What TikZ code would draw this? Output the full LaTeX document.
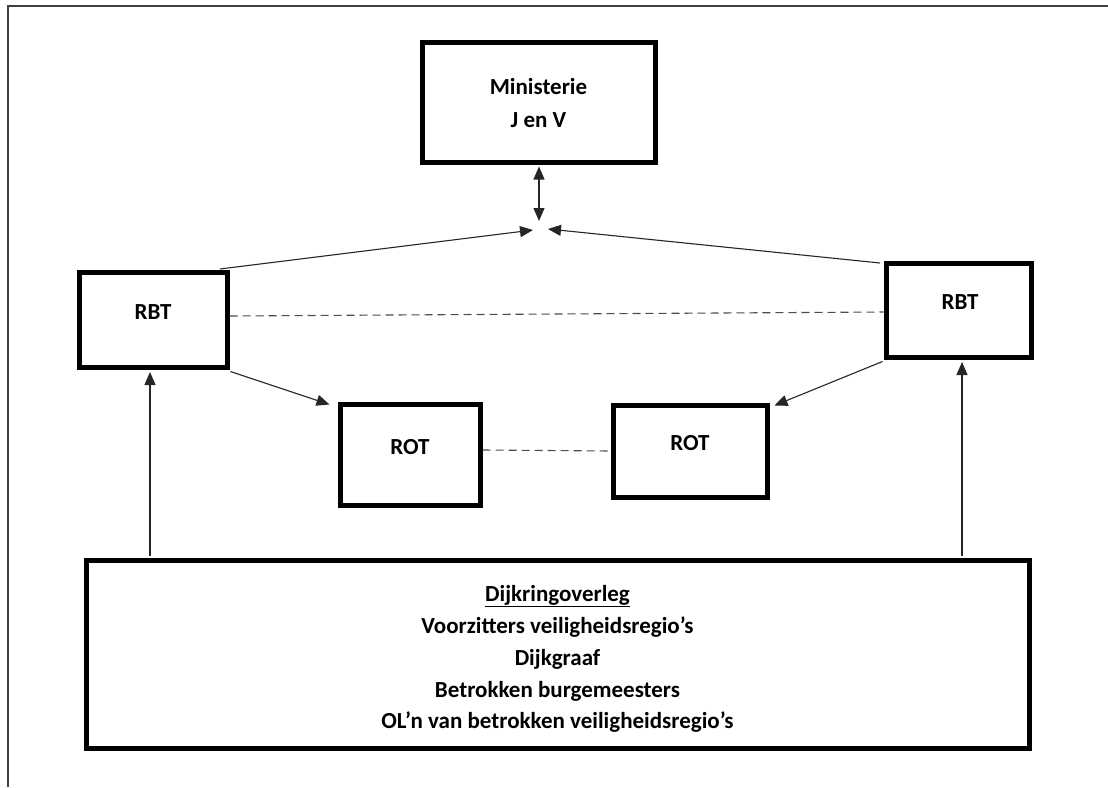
\documentclass[tikz,border=0pt]{standalone}
\usepackage{fontspec}
\setmainfont{Carlito}
\usetikzlibrary{arrows.meta,calc}

\tikzset{
  box/.style={draw=black, line width=5pt, inner sep=0pt, fill=none},
  lbl/.style={font=\bfseries\fontsize{23}{32}\selectfont, inner sep=0pt, align=center, anchor=center},
  link/.style={line width=1.1pt, draw=black!85},
  dlink/.style={line width=1.1pt, draw=black!70, dash pattern=on 8pt off 5pt},
  arr/.style={link, -{Triangle[length=13pt,width=11pt]}},
  darr/.style={link, {Triangle[length=13pt,width=11pt]}-{Triangle[length=13pt,width=11pt]}},
}

\begin{document}
\begin{tikzpicture}[x=1pt,y=-1pt]
  \useasboundingbox (0,0) rectangle (1108,787);

  % page frame (top and left edges)
  \draw[line width=2pt, draw=black!75] (8,787) -- (8,6) -- (1108,6);

  % boxes
  \node[box, minimum width=233pt, minimum height=120pt] (min)  at (538.5,102) {};
  \node[box, minimum width=148pt, minimum height=95pt]  (rbtL) at (153,319.5) {};
  \node[box, minimum width=145pt, minimum height=94pt]  (rbtR) at (958.5,310) {};
  \node[box, minimum width=140pt, minimum height=101pt] (rotL) at (410,454.5) {};
  \node[box, minimum width=154pt, minimum height=92pt]  (rotR) at (690,451) {};
  \node[box, minimum width=943pt, minimum height=188pt] (dko)  at (557.5,654) {};

  % box texts
  \node[lbl] (tMin1) at (538.5,87) {Ministerie};
  \node[lbl] (tMin2) at (538.5,120) {J en V};
  \node[lbl] (tRbtL) at (153,312) {RBT};
  \node[lbl] (tRbtR) at (960,302) {RBT};
  \node[lbl] (tRotL) at (410,447) {ROT};
  \node[lbl] (tRotR) at (690,443) {ROT};
  \node[lbl] (tD1) at (557.5,596) {\underline{Dijkringoverleg}};
  \node[lbl] (tD2) at (557.5,627) {Voorzitters veiligheidsregio’s};
  \node[lbl] (tD3) at (557.5,659) {Dijkgraaf};
  \node[lbl] (tD4) at (557.5,691) {Betrokken burgemeesters};
  \node[lbl] (tD5) at (557.5,722) {OL’n van betrokken veiligheidsregio’s};

  % meeting point below the ministry
  \coordinate (hub)   at (539,221);
  \coordinate (hubL)  at (533,230);
  \coordinate (hubR)  at (548,229);
  \coordinate (rbtLtop) at (220,269);
  \coordinate (rbtRtop) at (880,263);

  % connectors
  \draw[darr] ([yshift=-2pt]min.south -| hub) -- (hub);
  \draw[arr] (rbtLtop) -- (hubL);
  \draw[arr] (rbtRtop) -- (hubR);

  \draw[dlink] ([yshift=3.5pt]rbtL.east) -- ([yshift=-2pt]rbtR.west);
  \draw[dlink] ([yshift=4.5pt]rotL.east) -- (rotR.west);

  \draw[arr] ([shift={(1pt,-2pt)}]rbtL.south east) -- ([shift={(-8pt,-3pt)}]rotL.north west);
  \draw[arr] ([shift={(-1pt,-2pt)}]rbtR.south west) -- ([shift={(5pt,-3pt)}]rotR.north east);

  \draw[arr] ([yshift=2pt]dko.north -| 150,0) -- ([yshift=-2.5pt]rbtL.south -| 150,0);
  \draw[arr] ([yshift=2pt]dko.north -| 962,0) -- ([yshift=-2.5pt]rbtR.south -| 962,0);
\end{tikzpicture}
\end{document}
